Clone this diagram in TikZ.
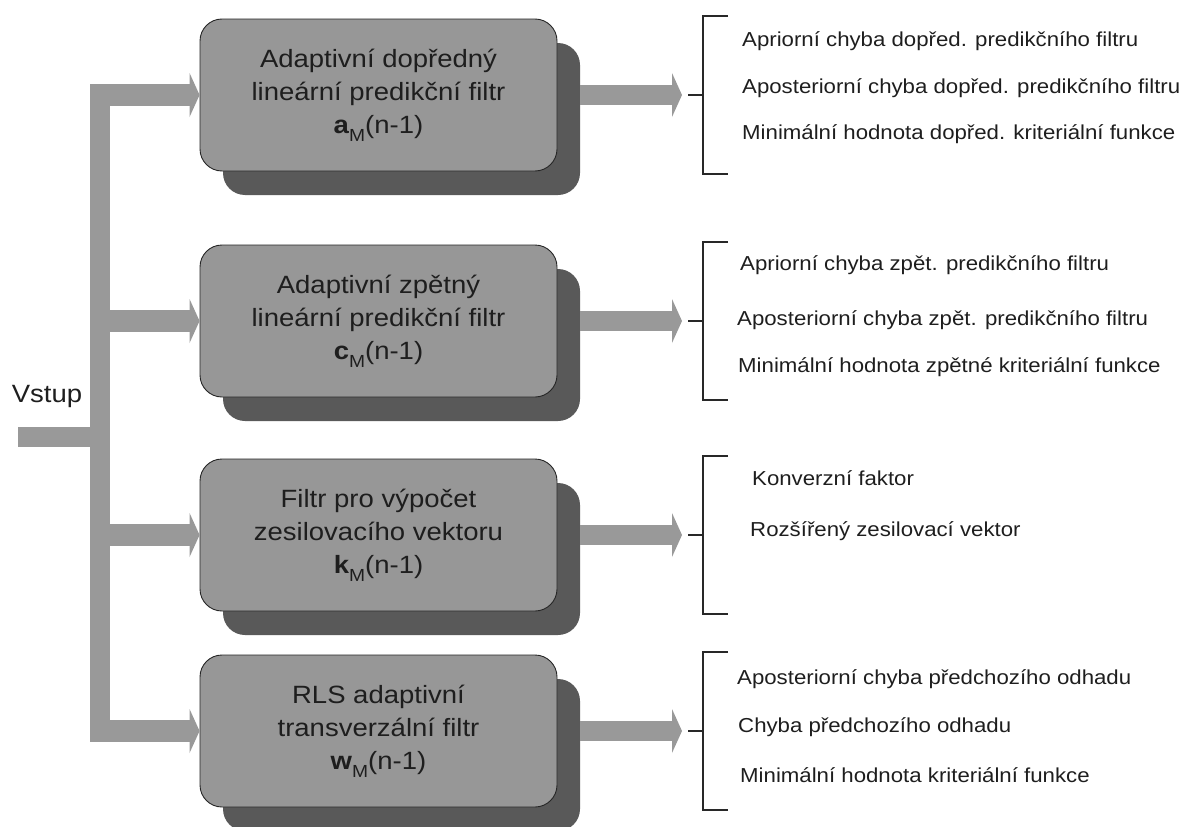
\documentclass[tikz,border=0pt]{standalone}
\usepackage{fontspec}
\setmainfont{Liberation Sans}[FakeStretch=1.1]
\usetikzlibrary{arrows.meta}

\definecolor{flowgray}{RGB}{153,153,153}
\definecolor{boxgray}{RGB}{151,151,151}
\definecolor{shadowgray}{RGB}{89,89,89}
\definecolor{inkgray}{RGB}{30,30,30}
\definecolor{bracketgray}{RGB}{40,40,40}

% lowered index after a bold vector symbol
\newcommand\vecidx[1]{\raisebox{-8pt}{\fontsize{17.5}{17.5}\selectfont #1}}

\begin{document}
\begin{tikzpicture}[x=1pt,y=-1pt,
  filterbox/.style={draw=black!85, line width=0.9pt, fill=boxgray,
    rounded corners=22pt, minimum width=357pt, minimum height=152pt,
    inner sep=0pt, align=center, text=inkgray,
    font=\fontsize{25}{33}\selectfont},
  shadowbox/.style={fill=shadowgray, rounded corners=22pt,
    minimum width=357pt, minimum height=152pt, inner sep=0pt},
  flow/.style={draw=flowgray, line width=20pt},
  flowarrow/.style={flow, -{Triangle[width=44pt,length=10pt,line width=0pt,fill=flowgray]}},
  bracket/.style={draw=bracketgray, line width=1.5pt},
  note/.style={anchor=west, inner sep=0pt, text=inkgray,
    font=\fontsize{20.2}{24}\selectfont, text height=0.72em, text depth=0.2em},
  inlabel/.style={inner sep=0pt, text=inkgray,
    font=\fontsize{25}{30}\selectfont, text height=0.72em, text depth=0.2em}
]
\useasboundingbox (0,0) rectangle (1184,827);

% drop shadows behind the filter blocks
\node[shadowbox] (s1) at (401.5,119) {};
\node[shadowbox] (s2) at (401.5,345) {};
\node[shadowbox] (s3) at (401.5,559) {};
\node[shadowbox] (s4) at (401.5,755) {};

% filter blocks
\node[filterbox] (b1) at (378.5,95)
  {Adaptivní dopředný\\lineární predikční filtr\\\textbf{a}\vecidx{M}(n-1)};
\node[filterbox] (b2) at (378.5,321)
  {Adaptivní zpětný\\lineární predikční filtr\\\textbf{c}\vecidx{M}(n-1)};
\node[filterbox] (b3) at (378.5,535)
  {Filtr pro výpočet\\zesilovacího vektoru\\\textbf{k}\vecidx{M}(n-1)};
\node[filterbox] (b4) at (378.5,731)
  {RLS adaptivní\\transverzální filtr\\\textbf{w}\vecidx{M}(n-1)};

% input bus
\node[inlabel] (vstup) at (47,400) {Vstup};
\coordinate (vin) at (18,437);
\coordinate (bustop) at (100,84);
\coordinate (busbot) at (100,742);
\draw[flow] (bustop) -- (busbot);
\draw[flow] (vin) -- (bustop |- vin);

\foreach \i/\yc in {1/95,2/321,3/535,4/731}{
  % branch into the block
  \draw[flowarrow, line width=22pt] (bustop |- b\i.west) -- (b\i.west);
  % output arrow towards the bracket
  \coordinate (o\i) at (682,\yc);
  \coordinate (k\i) at (688,\yc);
  \coordinate (kt\i) at (703,{\yc-79});
  \coordinate (kb\i) at (703,{\yc+79});
  \draw[flowarrow] (s\i.east |- b\i.east) -- (o\i);
  \draw[bracket] ([xshift=25pt]kt\i) -- (kt\i) -- (kb\i) -- ([xshift=25pt]kb\i);
  \draw[bracket] (k\i) -- (kt\i |- k\i);
}

% outputs of the forward predictor
\node[note] (n11) at (742,44) {Apriorní chyba dopřed. predikčního filtru};
\node[note] (n12) at (742,91) {Aposteriorní chyba dopřed. predikčního filtru};
\node[note] (n13) at (742,137) {Minimální hodnota dopřed. kriteriální funkce};
% outputs of the backward predictor
\node[note] (n21) at (740,268) {Apriorní chyba zpět. predikčního filtru};
\node[note] (n22) at (737,323) {Aposteriorní chyba zpět. predikčního filtru};
\node[note] (n23) at (738,370) {Minimální hodnota zpětné kriteriální funkce};
% outputs of the gain filter
\node[note] (n31) at (752,483) {Konverzní faktor};
\node[note] (n32) at (750,534) {Rozšířený zesilovací vektor};
% outputs of the transversal filter
\node[note] (n41) at (737,682) {Aposteriorní chyba předchozího odhadu};
\node[note] (n42) at (738,730) {Chyba předchozího odhadu};
\node[note] (n43) at (740,780) {Minimální hodnota kriteriální funkce};
\end{tikzpicture}
\end{document}
